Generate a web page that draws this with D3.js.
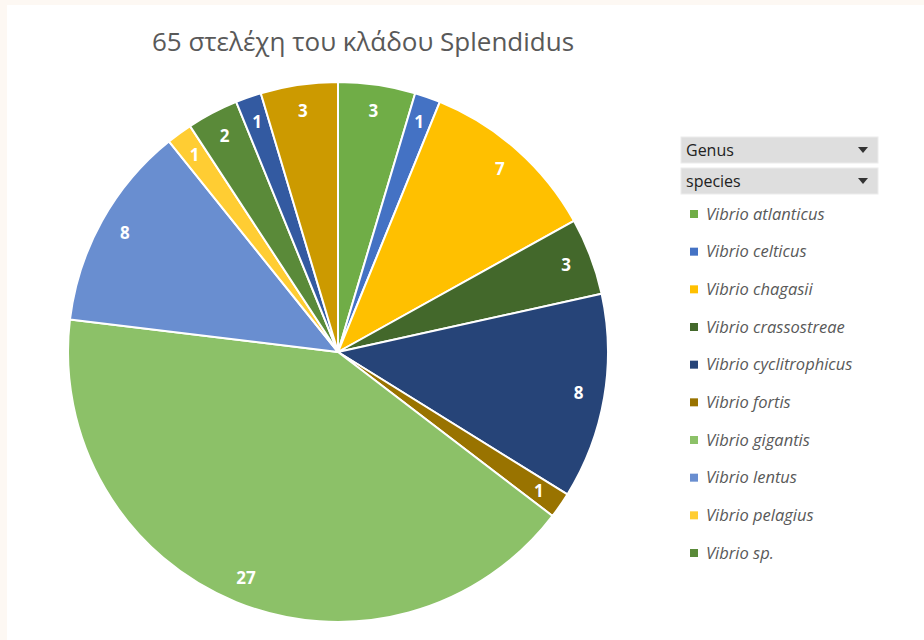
<!DOCTYPE html>
<html>
<head>
<meta charset="utf-8">
<script src="https://cdn.jsdelivr.net/npm/d3@7"></script>
<style>
  body { margin: 0; background: #fdf8f3; }
  svg { display: block; }
</style>
</head>
<body>
<svg width="924" height="640"></svg>
<script>
// species in sheet order, counts per species (65 strains)
var species = ["Vibrio atlanticus", "Vibrio celticus", "Vibrio chagasii", "Vibrio crassostreae",
               "Vibrio cyclitrophicus", "Vibrio fortis", "Vibrio gigantis", "Vibrio lentus",
               "Vibrio pelagius", "Vibrio sp.", "Vibrio splendidus", "Vibrio tasmaniensis"];
var counts = [3, 1, 7, 3, 8, 1, 27, 8, 1, 2, 1, 3];
var colours = ["#70ad47", "#4472c4", "#ffc000", "#43682b", "#264478", "#997300",
               "#8cc168", "#698ed0", "#ffcd33", "#5a8a39", "#335aa1", "#cc9a00"];
var filters = ["Genus", "species"];
var shownInLegend = 10;

var svg = d3.select("svg");

// white chart area (thin cream frame top/left like the screenshot)
svg.append("rect")
    .attr("x", 7).attr("y", 5)
    .attr("width", 917).attr("height", 635)
    .attr("fill", "#fff");

svg.append("text")
    .attr("x", 363)
    .attr("y", 51)
    .attr("text-anchor", "middle")
    .style("font-family", "'Open Sans', 'Noto Sans', sans-serif")
    .style("font-size", "26px")
    .attr("fill", "#595959")
    .text("65 στελέχη του κλάδου Splendidus");

var cx = 338, cy = 352, r = 270;

var data = species.map(function(s, i) { return {name: s, value: counts[i]}; });
var pie = d3.pie().sort(null).value(function(d) { return d.value; });
var arc = d3.arc().innerRadius(0).outerRadius(r);
var labelArc = d3.arc().innerRadius(244).outerRadius(244);
var colour = d3.scaleOrdinal().domain(species).range(colours);

var g = svg.append("g")
    .attr("transform", "translate(" + cx + "," + cy + ")");

g.selectAll(".slice")
  .data(pie(data))
  .enter().append("path")
    .attr("class", "slice")
    .attr("d", arc)
    .attr("fill", function(d) { return colour(d.data.name); })
    .attr("stroke", "#fff")
    .attr("stroke-width", 2)
    .attr("stroke-linejoin", "round");

g.selectAll(".lbl")
  .data(pie(data))
  .enter().append("text")
    .attr("class", "lbl")
    .attr("transform", function(d) { return "translate(" + labelArc.centroid(d) + ")"; })
    .attr("text-anchor", "middle")
    .attr("dy", "0.35em")
    .attr("fill", "#fff")
    .style("font-family", "'Open Sans', 'Noto Sans', sans-serif")
    .style("font-size", "17px")
    .style("font-weight", "bold")
    .text(function(d) { return d.data.value; });

// pivot filter buttons
var btn = svg.append("g").selectAll("g")
  .data(filters)
  .enter().append("g")
    .attr("transform", function(d, i) { return "translate(681," + (137 + i * 31) + ")"; });

btn.append("rect")
    .attr("width", 197).attr("height", 26)
    .attr("fill", "#dedede")
    .attr("stroke", "#ececec");

btn.append("text")
    .attr("x", 5).attr("y", 19)
    .style("font-family", "'Open Sans', 'Noto Sans', sans-serif")
    .style("font-size", "16px")
    .attr("fill", "#222")
    .text(function(d) { return d; });

btn.append("path")
    .attr("d", "M177,10 L187,10 L182,16 Z")
    .attr("fill", "#333");

// legend (only the first entries fit)
var y = d3.scalePoint()
    .domain(species.slice(0, shownInLegend))
    .range([214, 553]);

var leg = svg.append("g").selectAll("g")
  .data(species.slice(0, shownInLegend))
  .enter().append("g")
    .attr("transform", function(d) { return "translate(690," + y(d) + ")"; });

leg.append("rect")
    .attr("x", 0).attr("y", -4)
    .attr("width", 8).attr("height", 8)
    .attr("fill", function(d) { return colour(d); });

leg.append("text")
    .attr("x", 16)
    .attr("dy", "0.35em")
    .style("font-family", "'Open Sans', 'Noto Sans', sans-serif")
    .style("font-size", "16.5px")
    .style("font-style", "italic")
    .attr("fill", "#595959")
    .text(function(d) { return d; });
</script>
</body>
</html>
